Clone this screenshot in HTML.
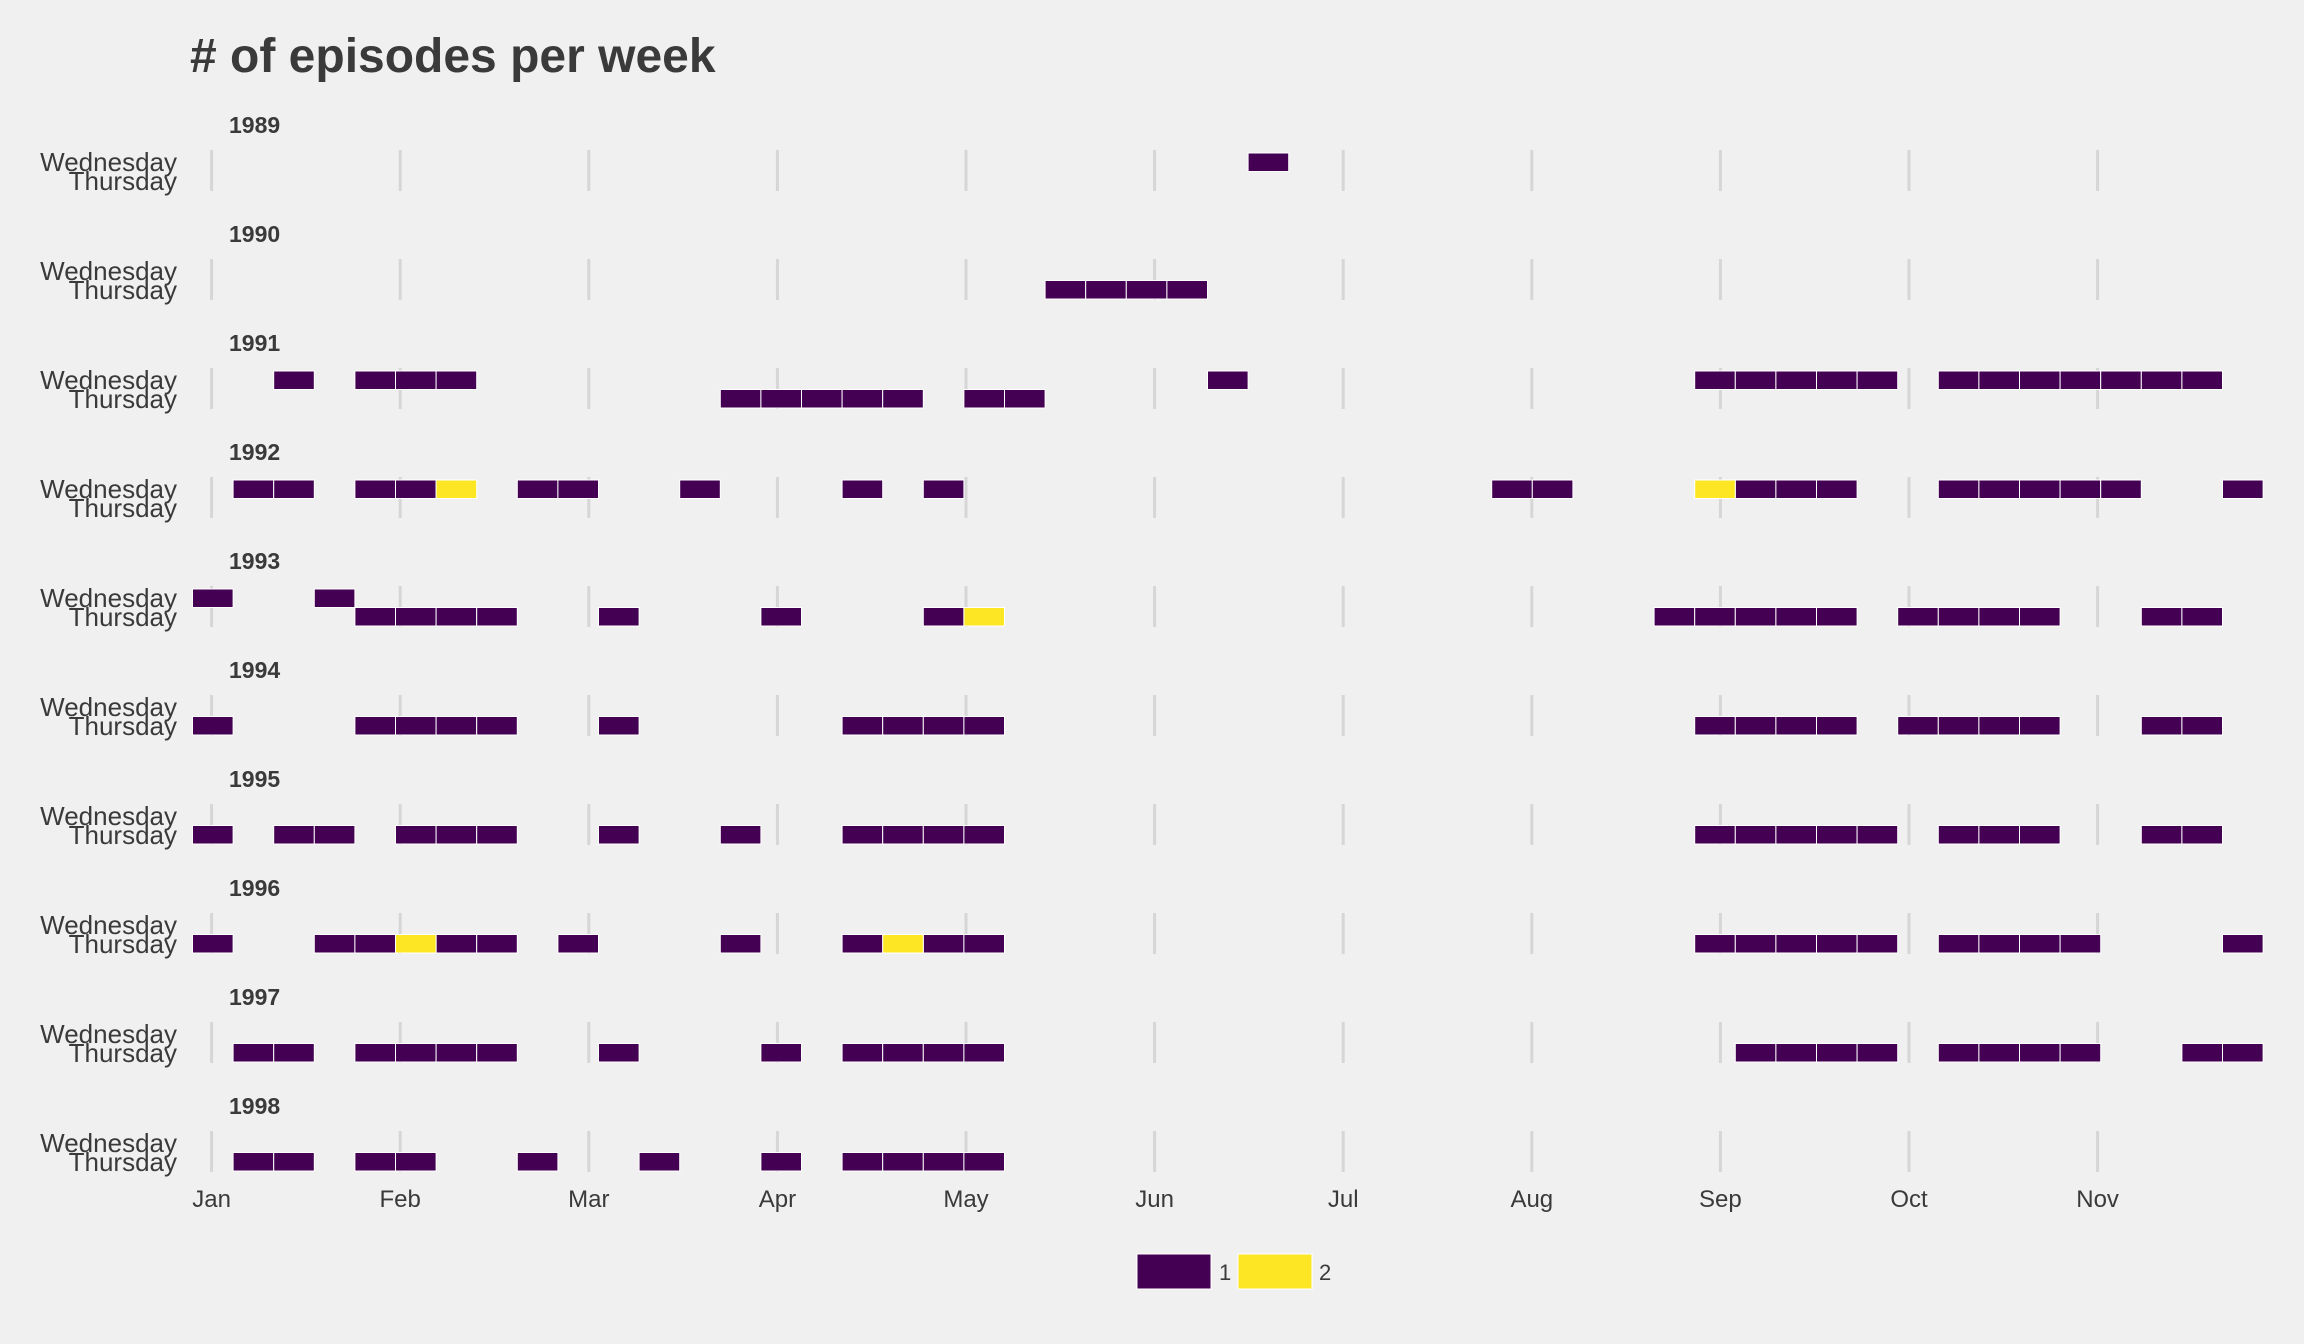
<!DOCTYPE html>
<html><head><meta charset="utf-8">
<style>
body{margin:0;background:#f0f0f0;}
svg{display:block;font-family:"Liberation Sans",sans-serif;}
</style></head>
<body>
<svg id="chart" width="2304" height="1344" viewBox="0 0 2304 1344" xmlns="http://www.w3.org/2000/svg">
<rect width="2304" height="1344" fill="#f0f0f0"/>
<text x="190" y="72" font-size="48" font-weight="bold" fill="#3a3a3a"># of episodes per week</text>
<g id="grid"></g>
<g id="tiles"></g>
<g id="labels"></g>
<g>
<rect x="1137" y="1254" width="74" height="35" fill="#440154" stroke="#fff" stroke-width="1"/>
<text x="1219" y="1280" font-size="22" fill="#3a3a3a">1</text>
<rect x="1238" y="1254" width="74" height="35" fill="#FDE725" stroke="#fff" stroke-width="1"/>
<text x="1319" y="1280" font-size="22" fill="#3a3a3a">2</text>
</g>
</svg>
<script>
const years = [1989,1990,1991,1992,1993,1994,1995,1996,1997,1998];
const monthLabels = ["Jan","Feb","Mar","Apr","May","Jun","Jul","Aug","Sep","Oct","Nov"];
const dayLabels = ["Wednesday","Thursday"];
const wed1 = {1989:[26],1991:[2,4,5,6,25,37,38,39,40,41,43,44,45,46,47,48,49],1992:[1,2,4,5,8,9,12,16,18,32,33,38,39,40,43,44,45,46,47,50],1993:[0,3]};
const wed2 = {1992:[6,37]};
const thu1 = {1990:[21,22,23,24],1991:[13,14,15,16,17,19,20],1993:[4,5,6,7,10,14,18,36,37,38,39,40,42,43,44,45,48,49],
 1994:[0,4,5,6,7,10,16,17,18,19,37,38,39,40,42,43,44,45,48,49],
 1995:[0,2,3,5,6,7,10,13,16,17,18,19,37,38,39,40,41,43,44,45,48,49],
 1996:[0,3,4,6,7,9,13,16,18,19,37,38,39,40,41,43,44,45,46,50],
 1997:[1,2,4,5,6,7,10,14,16,17,18,19,38,39,40,41,43,44,45,46,49,50],
 1998:[1,2,4,5,8,11,14,16,17,18,19]};
const thu2 = {1993:[19],1996:[5,17]};

const NS="http://www.w3.org/2000/svg";
const X0=192.5, WEEK=40.6, GRID0=211.6, MONTH=188.6, PANEL0=150, PANELH=109;
function xWeek(w){return X0+w*WEEK;}
function xMonth(m){return GRID0+m*MONTH;}
function yPanel(i){return PANEL0+i*PANELH;}
function mk(tag,attrs,parent){const e=document.createElementNS(NS,tag);for(const k in attrs)e.setAttribute(k,attrs[k]);parent.appendChild(e);return e;}
const grid=document.getElementById('grid'),tiles=document.getElementById('tiles'),labels=document.getElementById('labels');
const colors={1:"#440154",2:"#FDE725"};
years.forEach((yr,i)=>{
  const top=yPanel(i);
  monthLabels.forEach((m,j)=>{
    const l=mk('line',{x1:xMonth(j),x2:xMonth(j),y1:top,y2:top+41,stroke:"#d6d6d6","stroke-width":3},grid);
    
    
  });
  const t=mk('text',{x:229,y:top-17,"font-size":23,"font-weight":"bold",fill:"#3a3a3a"},labels);
  t.textContent=yr;
  
  
  dayLabels.forEach((d,k)=>{
    const dl=mk('text',{x:177,y:top+21+k*19,"font-size":26,fill:"#3a3a3a","text-anchor":"end"},labels);
    dl.textContent=d;
    
    
  });
  [[wed1,0,1],[wed2,0,2],[thu1,1,1],[thu2,1,2]].forEach(([src,day,c])=>{
    (src[yr]||[]).forEach(w=>{
      const r=mk('rect',{x:xWeek(w),y:top+3+day*18.5,width:WEEK,height:18.5,fill:colors[c],stroke:"#ffffff","stroke-width":1},tiles);
      
      
    });
  });
});
monthLabels.forEach((m,j)=>{
  const t=mk('text',{x:xMonth(j),y:1207,"font-size":24,fill:"#3a3a3a","text-anchor":"middle"},labels);
  t.textContent=m;
  
  
});
</script>
</body></html>
